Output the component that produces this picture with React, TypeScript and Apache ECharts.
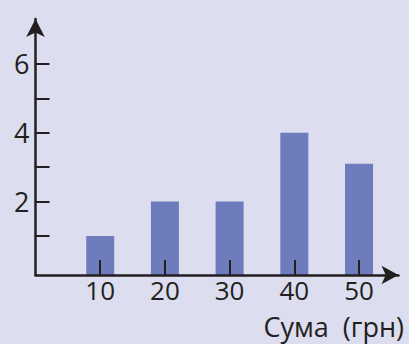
import React, { useEffect, useRef } from "react";
import * as echarts from "echarts";

const categories = [10, 20, 30, 40, 50];
const counts = [1, 2, 2, 4, 3.1];
const yTickValues = [1, 2, 3, 4, 5, 6];
const yLabelValues = [2, 4, 6];
const xTickValues = [10, 20, 30, 40, 50];
const xTitle = "Сума  (грн)";

const INK = "#231f20";
const BAR = "#6e7bbd";
const BG = "#dcddef";
const FONT = "'Open Sans', sans-serif";
const Y_MIN = -0.134;

export default function App() {
  const ref = useRef<HTMLDivElement>(null);
  useEffect(() => {
    if (!ref.current) return;
    const chart = echarts.init(ref.current, null, { renderer: "svg" });
    const data = categories.map((c, i) => [c, counts[i]]);
    chart.setOption({
      animation: false,
      backgroundColor: BG,
      grid: { left: 35.5, right: 10.5, top: 19, bottom: 69, containLabel: false },
      xAxis: {
        type: "value",
        min: 0,
        max: 56.1,
        z: 5,
        splitLine: { show: false },
        axisLine: {
          onZero: false,
          lineStyle: { color: INK, width: 2.5 },
          symbol: ["none", "arrow"],
          symbolSize: [14, 17],
        },
        axisTick: {
          inside: true,
          length: 15,
          customValues: xTickValues,
          lineStyle: { color: INK, width: 2 },
        },
        axisLabel: {
          customValues: xTickValues,
          color: INK,
          fontFamily: FONT,
          fontSize: 26,
          lineHeight: 26,
          margin: 2,
        },
      },
      yAxis: {
        type: "value",
        min: Y_MIN,
        max: 7.308,
        z: 5,
        splitLine: { show: false },
        axisLine: {
          show: true,
          onZero: false,
          lineStyle: { color: INK, width: 2.5 },
          symbol: ["none", "arrow"],
          symbolSize: [14, 18],
        },
        axisTick: {
          show: true,
          inside: true,
          length: 14,
          customValues: yTickValues,
          lineStyle: { color: INK, width: 2 },
        },
        axisLabel: {
          customValues: yLabelValues,
          color: INK,
          fontFamily: FONT,
          fontSize: 27,
          lineHeight: 27,
          margin: 6,
        },
      },
      graphic: [
        {
          type: "text",
          x: 404,
          y: 326.5,
          style: {
            text: xTitle,
            fill: INK,
            font: `27px ${FONT}`,
            lineHeight: 27,
            align: "right",
            verticalAlign: "middle",
          },
        },
      ],
      series: [
        {
          type: "custom",
          z: 2,
          data,
          renderItem: (params: any, api: any) => {
            const x = api.value(0);
            const v = api.value(1);
            const top = api.coord([x, v]);
            const bottom = api.coord([x, Y_MIN]);
            const w = 28;
            return {
              type: "rect",
              shape: { x: top[0] - w / 2, y: top[1], width: w, height: bottom[1] - top[1] },
              style: { fill: BAR },
            };
          },
        },
      ],
    });
    return () => chart.dispose();
  }, []);
  return (
    <div
      ref={ref}
      style={{ position: "fixed", left: 0, top: 0, width: 409, height: 344 }}
    />
  );
}
